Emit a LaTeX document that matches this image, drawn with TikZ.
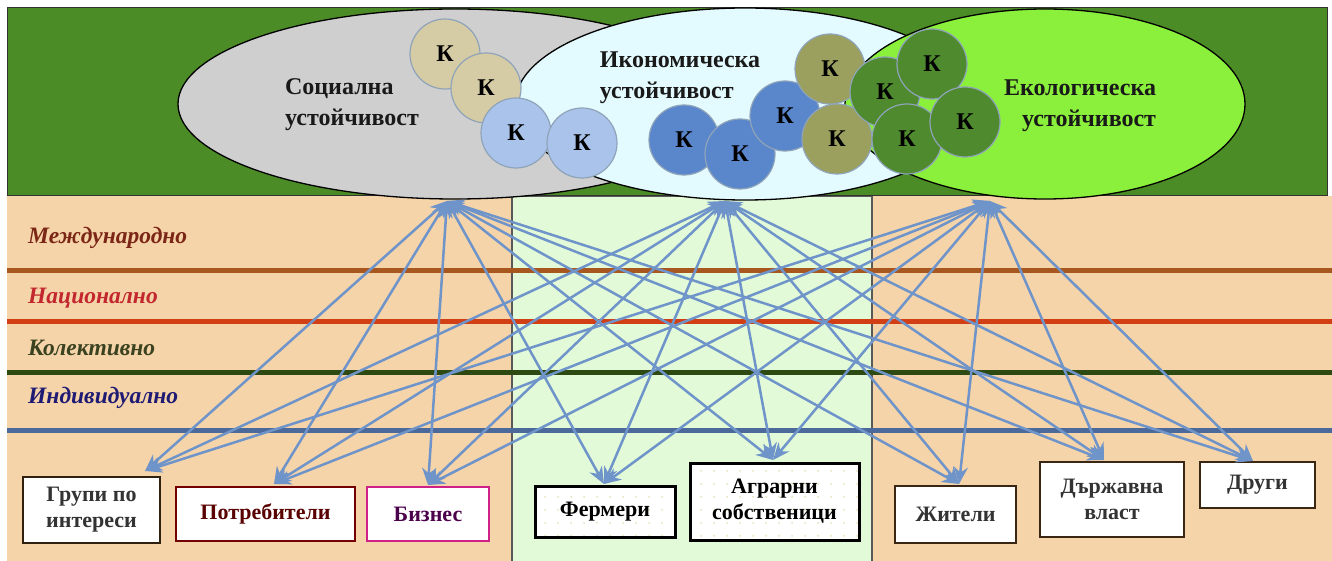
\documentclass[tikz,border=0pt]{standalone}
\usepackage{fontspec}
\setmainfont{Liberation Serif}
\usetikzlibrary{arrows.meta,shapes.geometric,patterns.meta}

\definecolor{topgreen}{HTML}{4C8C26}
\definecolor{peach}{HTML}{F6D4A9}
\definecolor{midgreen}{HTML}{E3FAD8}
\definecolor{socgray}{HTML}{CFCFCF}
\definecolor{ecocyan}{HTML}{E3FAFE}
\definecolor{envlime}{HTML}{8BF03C}
\definecolor{tanK}{HTML}{D5CCA5}
\definecolor{lightK}{HTML}{A9C3EA}
\definecolor{blueK}{HTML}{5A86CB}
\definecolor{oliveK}{HTML}{9BA05F}
\definecolor{greenK}{HTML}{4F8B2E}
\definecolor{rim}{HTML}{8FA3B9}
\definecolor{arrowblue}{HTML}{6E94C9}
\definecolor{intlc}{HTML}{7B2616}
\definecolor{natc}{HTML}{C2262E}
\definecolor{collc}{HTML}{3B4220}
\definecolor{indc}{HTML}{1F1A73}
\definecolor{intll}{HTML}{A8571F}
\definecolor{natl}{HTML}{D23F14}
\definecolor{colll}{HTML}{2D4A12}
\definecolor{indl}{HTML}{4B6A9B}
\definecolor{dotc}{HTML}{EDE6C4}

\begin{document}
\begin{tikzpicture}[x=1pt,y=-1pt,
  kr/.style={circle,minimum size=70pt,inner sep=0pt,draw=rim,line width=1.2pt,fill=#1,
    font=\fontsize{24}{24}\selectfont\bfseries},
  elltxt/.style={font=\fontsize{24}{31}\selectfont\bfseries,text=black!90,inner sep=0pt},
  lvl/.style={anchor=west,inner sep=0pt,font=\fontsize{23.5}{23.5}\selectfont\bfseries\itshape},
  lvlline/.style={line width=5pt},
  box/.style={rectangle,fill=white,line width=2.5pt,align=center,inner sep=2pt,
    font=\fontsize{22}{26}\selectfont\bfseries},
  dotted box/.style={box,draw=black,line width=3pt,preaction={fill=white},
    pattern={Dots[distance=13pt,radius=1.2pt]},pattern color=dotc},
  link/.style={{Stealth[length=17pt,width=14pt]}-{Stealth[length=17pt,width=14pt]},
    line width=2.5pt,draw=arrowblue}]
\useasboundingbox (0,0) rectangle (1332,561);
\fill[white] (0,0) rectangle (1332,561);

% background bands
\fill[peach] (7,196) rectangle (1332,561);
\draw[fill=midgreen,draw=black!65,line width=1.2pt] (512,196) rectangle (872,563);
\draw[fill=topgreen,draw=black!80,line width=1pt] (7,8) rectangle (1327,196);

% the three kinds of sustainability
\node[ellipse,draw=black,line width=1.3pt,fill=socgray,minimum width=554pt,minimum height=190pt] (soc) at (455,104) {};
\node[ellipse,draw=black,line width=1.3pt,fill=ecocyan,minimum width=460pt,minimum height=192pt] (eco) at (745,104) {};
\node[ellipse,draw=black,line width=1.3pt,fill=envlime,minimum width=400pt,minimum height=190pt] (env) at (1045,104) {};

% criteria
\foreach \c/\p [count=\i] in {tanK/{445,54},tanK/{486,88},lightK/{516,133},lightK/{582,143},
    blueK/{684,140},blueK/{740,154},blueK/{785,116},oliveK/{830,69},oliveK/{837,139},
    greenK/{885,92},greenK/{932,64},greenK/{907,139},greenK/{965,122}}
  \node[kr=\c] (k\i) at (\p) {К};

\node[elltxt,align=left] (soc-t) at (352,105) {Социална\\устойчивост};
\node[elltxt,align=left] (eco-t) at (680,78) {Икономическа\\устойчивост};
\node[elltxt,align=right] (env-t) at (1080,106) {Екологическа\\устойчивост};

% levels
\node[lvl,text=intlc] (intl) at (28,238) {Международно};
\node[lvl,text=natc] (nat) at (28,298) {Национално};
\node[lvl,text=collc] (coll) at (28,348) {Колективно};
\node[lvl,text=indc] (ind) at (28,398) {Индивидуално};
\draw[lvlline,intll] (7,270) -- (1332,270);
\draw[lvlline,natl] (7,321) -- (1332,321);
\draw[lvlline,colll] (7,372) -- (1332,372);
\draw[lvlline,indl] (7,430) -- (1332,430);

% stakeholders
\node[box,draw=black!75!brown,text=black!80,minimum width=137pt,minimum height=66pt] (grp) at (91.5,510) {Групи по\\интереси};
\node[box,draw=red!45!black,text=red!35!black,minimum width=179pt,minimum height=54pt] (potr) at (265.5,514) {Потребители};
\node[box,draw=magenta!70!violet,text=violet!60!black,minimum width=122pt,minimum height=54pt] (biz) at (428,514) {Бизнес};
\node[dotted box,minimum width=140pt,minimum height=51pt] (ferm) at (605,511.5) {Фермери};
\node[dotted box,minimum width=169pt,minimum height=77pt] (agr) at (774.5,501.5) {Аграрни\\собственици};
\node[box,draw=black!70!brown,text=black!80,minimum width=121pt,minimum height=57pt] (zhit) at (955.5,514.5) {Жители};
\node[box,draw=black!70!brown,text=black!80,minimum width=144pt,minimum height=75pt] (vlast) at (1112,499.5) {Държавна\\власт};
\node[box,draw=black!70!brown,text=black!80,minimum width=115pt,minimum height=46pt] (drugi) at (1257.5,485) {Други};

% arrow ends
\coordinate (soc-s) at (447,201);
\coordinate (eco-s) at (725,201);
\coordinate (env-s) at (990,201);
\coordinate (grp-in) at (145,471);
\coordinate (potr-in) at (274,484);
\coordinate (biz-in) at (428,485);
\coordinate (ferm-in) at (604,484);
\coordinate (agr-in) at (773,460);
\coordinate (zhit-in) at (959,484);
\coordinate (vlast-in) at (1104,460);
\coordinate (drugi-in) at (1253,461);

\foreach \s in {soc-s,eco-s,env-s}
  \foreach \t in {grp,potr,biz,ferm,agr,zhit,vlast,drugi}
    \draw[link] (\s) -- (\t-in);
\end{tikzpicture}
\end{document}
